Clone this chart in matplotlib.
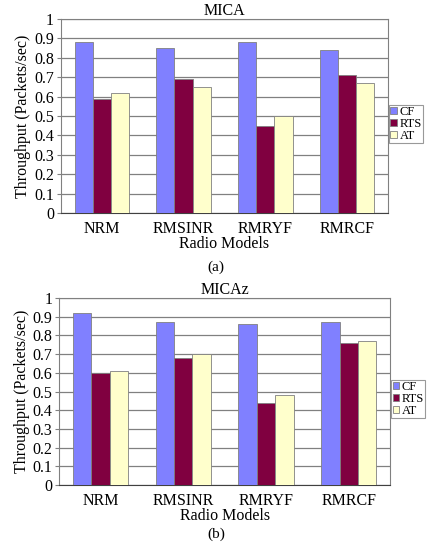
import numpy as np
import matplotlib.pyplot as plt

plt.rcParams['font.family'] = ['Liberation Serif', 'DejaVu Serif']

models = ['NRM', 'RMSINR', 'RMRYF', 'RMRCF']
series = ['CF', 'RTS', 'AT']

mica_cf = [0.88, 0.85, 0.88, 0.84]
mica_rts = [0.59, 0.69, 0.45, 0.71]
mica_at = [0.62, 0.65, 0.50, 0.67]

micaz_cf = [0.92, 0.87, 0.86, 0.87]
micaz_rts = [0.60, 0.68, 0.44, 0.76]
micaz_at = [0.61, 0.70, 0.48, 0.77]

colors = ['#8080ff', '#800040', '#ffffcc']

fig = plt.figure(figsize=(4.32, 5.42), dpi=100)


def panel(rect, title, data, legend_y, caption_y, caption):
    ax = fig.add_axes(rect)
    x = np.arange(len(models))
    w = 0.222
    for i, (vals, c) in enumerate(zip(data, colors)):
        ax.bar(x + (i - 1) * w, vals, w, color=c, edgecolor='#808080',
               linewidth=0.6, label=series[i], zorder=3)
    ax.set_xlim(-0.5, len(models) - 0.5)
    ax.set_ylim(0, 1)
    ax.set_yticks(np.arange(0, 1.01, 0.1))
    ax.set_yticklabels(['0', '0.1', '0.2', '0.3', '0.4', '0.5', '0.6', '0.7', '0.8', '0.9', '1'])
    ax.yaxis.grid(True, color='#808080', linewidth=0.9, zorder=0)
    ax.set_xticks(x)
    ax.set_xticklabels(models)
    ax.tick_params(axis='x', length=0, labelsize=11.5, pad=6)
    ax.tick_params(axis='y', length=3, labelsize=11.5, color='#808080', pad=2)
    for s in ax.spines.values():
        s.set_color('#808080')
        s.set_linewidth(0.8)
    ax.spines['bottom'].set_color('#404040')
    ax.set_title(title, fontsize=11.5, pad=3)
    ax.set_xlabel('Radio Models', fontsize=11.5, labelpad=-1)
    ax.set_ylabel('Throughput (Packets/sec)', fontsize=11.5, labelpad=2)
    leg = ax.legend(loc='upper left', bbox_to_anchor=(1.0, legend_y), fontsize=9,
                    frameon=True, fancybox=False, edgecolor='#808080',
                    handlelength=0.55, handleheight=0.55, handletextpad=0.2,
                    borderpad=0.1, labelspacing=0.0, borderaxespad=0.1)
    leg.get_frame().set_linewidth(0.8)
    fig.text(0.5, caption_y, caption, ha='center', va='center', fontsize=11)
    return ax


panel([0.141, 0.607, 0.757, 0.358], 'MICA', [mica_cf, mica_rts, mica_at], 0.565, 0.507, '(a)')
panel([0.137, 0.105, 0.766, 0.345], 'MICAz', [micaz_cf, micaz_rts, micaz_at], 0.57, 0.014, '(b)')

fig.savefig('out.png', dpi=100)
